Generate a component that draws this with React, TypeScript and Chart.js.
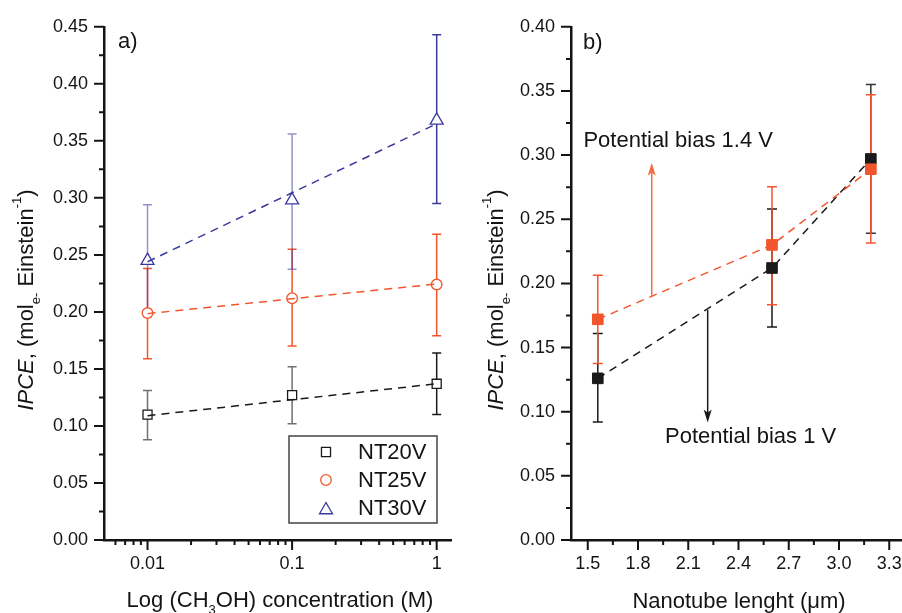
import React, { useEffect, useRef } from "react";
import { Chart, registerables } from "chart.js";

Chart.register(...registerables);

const FONT = "'Liberation Sans', Arial, sans-serif";
const INK = "#141414";
const BLACK = "#1a1a1a";
const RED = "#f2552c";
const BLUE = "#3a3a9c";

// ---------- Panel a data ----------
const concentrations = [0.01, 0.1, 1];
const nt20 = [0.11, 0.127, 0.137];
const nt20Low = [0.088, 0.102, 0.11];
const nt20High = [0.131, 0.152, 0.164];
const nt25 = [0.199, 0.212, 0.224];
const nt25Low = [0.159, 0.17, 0.179];
const nt25High = [0.238, 0.255, 0.268];
const nt30 = [0.245, 0.298, 0.368];
const nt30Low = [0.196, 0.2375, 0.295];
const nt30High = [0.294, 0.356, 0.443];
const fitConcentrations = [0.01, 1];
const nt20Fit = [0.109, 0.137];
const nt25Fit = [0.1985, 0.2245];
const nt30Fit = [0.244, 0.365];
const seriesNamesA = ["NT20V", "NT25V", "NT30V"];
const yTicksA = [0, 0.05, 0.1, 0.15, 0.2, 0.25, 0.3, 0.35, 0.4, 0.45];
const xTicksA = [0.01, 0.1, 1];
const xTickLabelsA = ["0.01", "0.1", "1"];
const xMinorA = [0.006, 0.007, 0.008, 0.009, 0.02, 0.03, 0.04, 0.05, 0.06, 0.07, 0.08, 0.09, 0.2, 0.3, 0.4, 0.5, 0.6, 0.7, 0.8, 0.9];

// ---------- Panel b data ----------
const lengths = [1.56, 2.6, 3.19];
const bias1 = [0.126, 0.212, 0.297];
const bias1Low = [0.092, 0.166, 0.239];
const bias1High = [0.161, 0.258, 0.355];
const bias14 = [0.172, 0.23, 0.289];
const bias14Low = [0.1375, 0.1834, 0.2314];
const bias14High = [0.2064, 0.2753, 0.347];
const yTicksB = [0, 0.05, 0.1, 0.15, 0.2, 0.25, 0.3, 0.35, 0.4];
const xTicksB = [1.5, 1.8, 2.1, 2.4, 2.7, 3.0, 3.3];
const xTickLabelsB = ["1.5", "1.8", "2.1", "2.4", "2.7", "3.0", "3.3"];
const arrow14 = { x: 1.882, from: 0.1896, to: 0.294 };
const arrow1 = { x: 2.216, from: 0.1793, to: 0.0916 };
const label14 = { text: "Potential bias 1.4 V", x: 1.474, y: 0.3065 };
const label1 = { text: "Potential bias 1 V", x: 1.961, y: 0.0753 };

type Seg = { t: string; italic?: boolean; sub?: boolean; sup?: boolean };

const yTitle: Seg[] = [
  { t: "IPCE", italic: true },
  { t: ", (mol" },
  { t: "e-", sub: true },
  { t: " Einstein" },
  { t: "-1", sup: true },
  { t: ")" },
];
const xTitleA: Seg[] = [
  { t: "Log (CH" },
  { t: "3", sub: true },
  { t: "OH) concentration (M)" },
];
const xTitleB: Seg[] = [{ t: "Nanotube lenght (\u03bcm)" }];

function segFont(s: Seg, size: number) {
  const sz = s.sub || s.sup ? Math.round(size * 0.6) : size;
  return `${s.italic ? "italic " : ""}${sz}px ${FONT}`;
}
function richWidth(ctx: CanvasRenderingContext2D, segs: Seg[], size: number) {
  let w = 0;
  for (const s of segs) {
    ctx.font = segFont(s, size);
    w += ctx.measureText(s.t).width;
  }
  return w;
}
function drawRich(ctx: CanvasRenderingContext2D, segs: Seg[], size: number, x: number, y: number) {
  let cx = x;
  ctx.textAlign = "left";
  ctx.textBaseline = "alphabetic";
  for (const s of segs) {
    ctx.font = segFont(s, size);
    const dy = s.sub ? size * 0.3 : s.sup ? -size * 0.55 : 0;
    ctx.fillText(s.t, cx, y + dy);
    cx += ctx.measureText(s.t).width;
  }
}
function drawRichCentered(ctx: CanvasRenderingContext2D, segs: Seg[], size: number, cx: number, y: number) {
  const w = richWidth(ctx, segs, size);
  drawRich(ctx, segs, size, cx - w / 2, y);
}
function drawRichVertical(ctx: CanvasRenderingContext2D, segs: Seg[], size: number, x: number, cy: number) {
  const w = richWidth(ctx, segs, size);
  ctx.save();
  ctx.translate(x, cy);
  ctx.rotate(-Math.PI / 2);
  drawRich(ctx, segs, size, -w / 2, 0);
  ctx.restore();
}

function drawAxisTicks(chart: any, xMajor: number[], xMinor: number[], yMajor: number[]) {
  const { ctx, chartArea, scales } = chart;
  ctx.save();
  ctx.strokeStyle = INK;
  ctx.lineWidth = 2;
  ctx.beginPath();
  const yMinor: number[] = [];
  for (let i = 0; i < yMajor.length - 1; i++) yMinor.push((yMajor[i] + yMajor[i + 1]) / 2);
  for (const v of yMajor) {
    const p = scales.y.getPixelForValue(v);
    ctx.moveTo(chartArea.left, p);
    ctx.lineTo(chartArea.left - 10, p);
  }
  for (const v of yMinor) {
    const p = scales.y.getPixelForValue(v);
    ctx.moveTo(chartArea.left, p);
    ctx.lineTo(chartArea.left - 5, p);
  }
  for (const v of xMajor) {
    const p = scales.x.getPixelForValue(v);
    ctx.moveTo(p, chartArea.bottom);
    ctx.lineTo(p, chartArea.bottom + 10);
  }
  for (const v of xMinor) {
    const p = scales.x.getPixelForValue(v);
    if (p < chartArea.left || p > chartArea.right) continue;
    ctx.moveTo(p, chartArea.bottom);
    ctx.lineTo(p, chartArea.bottom + 5);
  }
  ctx.stroke();
  ctx.restore();
}

function drawErrorBars(chart: any, xs: number[], lows: number[], highs: number[], colors: string[], cap: number) {
  const { ctx, scales } = chart;
  ctx.save();
  ctx.lineWidth = 1.5;
  xs.forEach((xv, i) => {
    const px = scales.x.getPixelForValue(xv);
    const pl = scales.y.getPixelForValue(lows[i]);
    const ph = scales.y.getPixelForValue(highs[i]);
    ctx.strokeStyle = colors[i];
    ctx.beginPath();
    ctx.moveTo(px, pl);
    ctx.lineTo(px, ph);
    ctx.moveTo(px - cap / 2, pl);
    ctx.lineTo(px + cap / 2, pl);
    ctx.moveTo(px - cap / 2, ph);
    ctx.lineTo(px + cap / 2, ph);
    ctx.stroke();
  });
  ctx.restore();
}

function drawMarker(ctx: CanvasRenderingContext2D, style: string, x: number, y: number, r: number, color: string) {
  ctx.save();
  ctx.strokeStyle = color;
  ctx.fillStyle = "#fff";
  ctx.lineWidth = 1.3;
  ctx.beginPath();
  if (style === "rect") {
    const s = r * Math.SQRT1_2;
    ctx.rect(x - s, y - s, 2 * s, 2 * s);
  } else if (style === "circle") {
    ctx.arc(x, y, r, 0, Math.PI * 2);
  } else {
    ctx.moveTo(x, y - r);
    ctx.lineTo(x + 0.866 * r, y + 0.5 * r);
    ctx.lineTo(x - 0.866 * r, y + 0.5 * r);
    ctx.closePath();
  }
  ctx.fill();
  ctx.stroke();
  ctx.restore();
}

function drawArrow(chart: any, a: { x: number; from: number; to: number }, color: string) {
  const { ctx, scales } = chart;
  const px = scales.x.getPixelForValue(a.x);
  const p0 = scales.y.getPixelForValue(a.from);
  const p1 = scales.y.getPixelForValue(a.to);
  const dir = p1 < p0 ? -1 : 1;
  const head = 13;
  ctx.save();
  ctx.strokeStyle = color;
  ctx.fillStyle = color;
  ctx.lineWidth = 1.5;
  ctx.beginPath();
  ctx.moveTo(px, p0);
  ctx.lineTo(px, p1 - dir * head * 0.6);
  ctx.stroke();
  ctx.beginPath();
  ctx.moveTo(px, p1);
  ctx.lineTo(px - 4, p1 - dir * head);
  ctx.lineTo(px, p1 - dir * head * 0.75);
  ctx.lineTo(px + 4, p1 - dir * head);
  ctx.closePath();
  ctx.fill();
  ctx.restore();
}

const tickFont = { family: FONT, size: 18 };

function makeYScale(ticks: number[], width: number) {
  return {
    type: "linear" as const,
    min: ticks[0],
    max: ticks[ticks.length - 1],
    grid: { display: false, drawTicks: false },
    border: { display: true, color: INK, width: 2.5 },
    ticks: {
      color: INK,
      font: tickFont,
      padding: 16,
      autoSkip: false,
      callback: (v: any) => Number(v).toFixed(2),
    },
    afterBuildTicks: (s: any) => {
      s.ticks = ticks.map((v) => ({ value: v }));
    },
    afterFit: (s: any) => {
      s.width = width;
    },
  };
}

function PanelA() {
  const ref = useRef<HTMLCanvasElement>(null);
  useEffect(() => {
    const pts = (xs: number[], ys: number[]) => xs.map((x, i) => ({ x, y: ys[i] }));
    const plugin = {
      id: "panelA",
      beforeDatasetsDraw(chart: any) {
        drawErrorBars(chart, concentrations, nt20Low, nt20High, ["#707070", "#707070", BLACK], 9);
        drawErrorBars(chart, concentrations, nt25Low, nt25High, [RED, RED, RED], 9);
        drawErrorBars(chart, concentrations, nt30Low, nt30High, ["rgba(58,58,156,0.55)", "rgba(58,58,156,0.55)", BLUE], 9);
      },
      afterDraw(chart: any) {
        const { ctx, chartArea } = chart;
        drawAxisTicks(chart, xTicksA, xMinorA, yTicksA);
        ctx.save();
        ctx.fillStyle = INK;
        drawRichVertical(ctx, yTitle, 22, 33, 300);
        drawRichCentered(ctx, xTitleA, 22, 280, 607);
        ctx.font = `22px ${FONT}`;
        ctx.textAlign = "left";
        ctx.textBaseline = "alphabetic";
        ctx.fillText("a)", chartArea.left + 14, 48);
        // legend
        const lx = 289, ly = 436, lw = 148, lh = 87;
        ctx.strokeStyle = "#444";
        ctx.lineWidth = 1.5;
        ctx.strokeRect(lx, ly, lw, lh);
        const styles = ["rect", "circle", "triangle"];
        const radii = [6.4, 5.3, 7.5];
        const colors = [BLACK, RED, BLUE];
        const rowY = [452, 480, 508];
        seriesNamesA.forEach((name, i) => {
          drawMarker(ctx, styles[i], 326, rowY[i] + (styles[i] === "triangle" ? 2 : 0), radii[i], colors[i]);
          ctx.fillStyle = INK;
          ctx.font = `22px ${FONT}`;
          ctx.textBaseline = "middle";
          ctx.fillText(name, 358, rowY[i] + 1);
        });
        ctx.restore();
      },
    };
    const fitStyle = { showLine: true, borderWidth: 1.5, borderDash: [8, 6], pointRadius: 0, order: 0 };
    const ptStyle = { showLine: false, pointBackgroundColor: "#fff", pointBorderWidth: 1.3, order: 1 };
    const chart = new Chart(ref.current!, {
      type: "line",
      data: {
        datasets: [
          { ...fitStyle, data: pts(fitConcentrations, nt20Fit), borderColor: BLACK },
          { ...fitStyle, data: pts(fitConcentrations, nt25Fit), borderColor: RED },
          { ...fitStyle, data: pts(fitConcentrations, nt30Fit), borderColor: BLUE },
          { ...ptStyle, label: seriesNamesA[0], data: pts(concentrations, nt20), pointStyle: "rect", pointRadius: 6.4, borderColor: BLACK, pointBorderColor: BLACK },
          { ...ptStyle, label: seriesNamesA[1], data: pts(concentrations, nt25), pointStyle: "circle", pointRadius: 5.3, borderColor: RED, pointBorderColor: RED },
          { ...ptStyle, label: seriesNamesA[2], data: pts(concentrations, nt30), pointStyle: "triangle", pointRadius: 7.5, borderColor: BLUE, pointBorderColor: BLUE },
        ] as any,
      },
      options: {
        animation: false,
        responsive: false,
        events: [],
        layout: { padding: { left: 0, top: 23, right: 4, bottom: 0 } },
        plugins: { legend: { display: false }, tooltip: { enabled: false } },
        scales: {
          x: {
            type: "logarithmic",
            min: 0.005,
            max: 1.26,
            offset: false,
            grid: { display: false, drawTicks: false },
            border: { display: true, color: INK, width: 2.5 },
            ticks: {
              color: INK,
              font: tickFont,
              padding: 13,
              autoSkip: false,
              maxRotation: 0,
              callback: (_v: any, i: number) => xTickLabelsA[i],
            },
            afterBuildTicks: (s: any) => {
              s.ticks = xTicksA.map((v) => ({ value: v }));
            },
            afterFit: (s: any) => {
              s.height = 73;
            },
          },
          y: makeYScale(yTicksA, 104),
        } as any,
      },
      plugins: [plugin],
    });
    return () => chart.destroy();
  }, []);
  return <canvas ref={ref} width={460} height={613} style={{ position: "absolute", left: 0, top: 0, width: 460, height: 613 }} />;
}

function PanelB() {
  const ref = useRef<HTMLCanvasElement>(null);
  useEffect(() => {
    const pts = (xs: number[], ys: number[]) => xs.map((x, i) => ({ x, y: ys[i] }));
    const plugin = {
      id: "panelB",
      beforeDatasetsDraw(chart: any) {
        drawErrorBars(chart, lengths, bias1Low, bias1High, [BLACK, BLACK, "#333"], 10);
        drawErrorBars(chart, lengths, bias14Low, bias14High, [RED, RED, RED], 10);
      },
      afterDraw(chart: any) {
        const { ctx, chartArea, scales } = chart;
        drawAxisTicks(chart, xTicksB, xTicksB.map((v) => v + 0.15), yTicksB);
        drawArrow(chart, arrow14, "#f36c48");
        drawArrow(chart, arrow1, BLACK);
        ctx.save();
        ctx.fillStyle = INK;
        drawRichVertical(ctx, yTitle, 22, 503 - 460, 300);
        drawRichCentered(ctx, xTitleB, 22, 739 - 460, 607.5);
        ctx.font = `22px ${FONT}`;
        ctx.textAlign = "left";
        ctx.textBaseline = "alphabetic";
        ctx.fillText("b)", chartArea.left + 12, 49);
        for (const l of [label14, label1]) {
          ctx.fillText(l.text, scales.x.getPixelForValue(l.x), scales.y.getPixelForValue(l.y));
        }
        ctx.restore();
      },
    };
    const lineStyle = { showLine: true, borderWidth: 1.5, borderDash: [8, 6], pointStyle: "rect", pointRadius: 7.5, pointBorderWidth: 1 };
    const chart = new Chart(ref.current!, {
      type: "line",
      data: {
        datasets: [
          { ...lineStyle, label: "1.4 V", data: pts(lengths, bias14), borderColor: RED, pointBackgroundColor: RED, pointBorderColor: RED, order: 1 },
          { ...lineStyle, label: "1 V", data: pts(lengths, bias1), borderColor: BLACK, pointBackgroundColor: BLACK, pointBorderColor: BLACK, order: 2 },
        ] as any,
      },
      options: {
        animation: false,
        responsive: false,
        events: [],
        layout: { padding: { left: 0, top: 23, right: 24, bottom: 0 } },
        plugins: { legend: { display: false }, tooltip: { enabled: false } },
        scales: {
          x: {
            type: "linear",
            min: 1.4,
            max: 3.4,
            offset: false,
            grid: { display: false, drawTicks: false },
            border: { display: true, color: INK, width: 2.5 },
            ticks: {
              color: INK,
              font: tickFont,
              padding: 13,
              autoSkip: false,
              maxRotation: 0,
              callback: (_v: any, i: number) => xTickLabelsB[i],
            },
            afterBuildTicks: (s: any) => {
              s.ticks = xTicksB.map((v) => ({ value: v }));
            },
            afterFit: (s: any) => {
              s.height = 73;
            },
          },
          y: makeYScale(yTicksB, 111),
        } as any,
      },
      plugins: [plugin],
    });
    return () => chart.destroy();
  }, []);
  return <canvas ref={ref} width={470} height={613} style={{ position: "absolute", left: 460, top: 0, width: 470, height: 613 }} />;
}

export default function App() {
  return (
    <div style={{ position: "absolute", left: 0, top: 0, width: 902, height: 613, overflow: "hidden", background: "#fff" }}>
      <PanelA />
      <PanelB />
    </div>
  );
}
